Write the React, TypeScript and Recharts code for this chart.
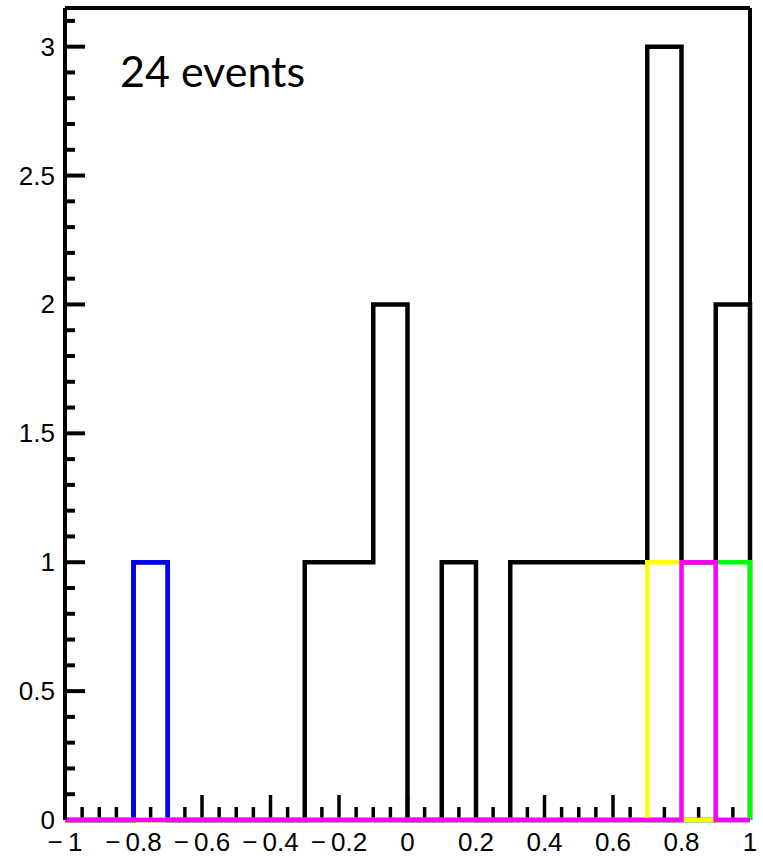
import { ComposedChart, Line, XAxis, YAxis, ReferenceLine } from 'recharts';

// bin edges of the histogram (20 bins from -1 to 1)
const BIN_EDGES = [-1, -0.9, -0.8, -0.7, -0.6, -0.5, -0.4, -0.3, -0.2, -0.1, 0, 0.1, 0.2, 0.3, 0.4, 0.5, 0.6, 0.7, 0.8, 0.9, 1];

// counts per bin
const TOTAL = [0, 0, 1, 0, 0, 0, 0, 1, 1, 2, 0, 1, 0, 1, 1, 1, 1, 3, 1, 2];
const BLUE = [0, 0, 1, 0, 0, 0, 0, 0, 0, 0, 0, 0, 0, 0, 0, 0, 0, 0, 0, 0];
const GREEN = [0, 0, 0, 0, 0, 0, 0, 0, 0, 0, 0, 0, 0, 0, 0, 0, 0, 0, 0, 1];
const YELLOW = [0, 0, 0, 0, 0, 0, 0, 0, 0, 0, 0, 0, 0, 0, 0, 0, 0, 1, 0, 0];
const MAGENTA = [0, 0, 0, 0, 0, 0, 0, 0, 0, 0, 0, 0, 0, 0, 0, 0, 0, 0, 1, 0];

const X_MAJOR = [-1, -0.8, -0.6, -0.4, -0.2, 0, 0.2, 0.4, 0.6, 0.8, 1];
const X_LABELS = ['\u2212\u20091', '\u2212\u20090.8', '\u2212\u20090.6', '\u2212\u20090.4', '\u2212\u20090.2', '0', '0.2', '0.4', '0.6', '0.8', '1'];
const Y_MAJOR = [0, 0.5, 1, 1.5, 2, 2.5, 3];
const Y_LABELS = ['0', '0.5', '1', '1.5', '2', '2.5', '3'];

const X_MAX = 1;
const X_MIN = -1;
const Y_MAX = 3.15;

const xTicks = Array.from({ length: 41 }, (_, i) => Math.round((-1 + i * 0.05) * 100) / 100);
const yTicks = Array.from({ length: 32 }, (_, i) => Math.round(i * 10) / 100);

// drawing order: later series sit on top
const series = [
  { key: 'total', values: TOTAL, color: '#000000' },
  { key: 'blue', values: BLUE, color: '#0000ff' },
  { key: 'green', values: GREEN, color: '#00ff00' },
  { key: 'yellow', values: YELLOW, color: '#ffff00' },
  { key: 'magenta', values: MAGENTA, color: '#ff00ff' },
];

// outline points: one per bin lower edge, then close at x = 1
const rows: Record<string, number>[] = [];
for (let i = 0; i < TOTAL.length; i++) {
  const r: Record<string, number> = { x: BIN_EDGES[i] };
  series.forEach((s) => (r[s.key] = s.values[i]));
  rows.push(r);
}
const last: Record<string, number> = { x: 1 };
series.forEach((s) => (last[s.key] = s.values[s.values.length - 1]));
rows.push(last);
const closing: Record<string, number> = { x: 1 };
series.forEach((s) => (closing[s.key] = 0));
rows.push(closing);

const W = 763;
const H = 857;
const LEFT = 65;
const RIGHT = 750;
const TOP = 8;
const BOTTOM = 820;
const FONT = '"Liberation Sans", Arial, Helvetica, sans-serif';

// tick lengths are in pixels; convert to data units for the reference segments
const X_PER_PX = (X_MAX - X_MIN) / (RIGHT - LEFT);
const Y_PER_PX = Y_MAX / (BOTTOM - TOP);

const near = (a: number, b: number) => Math.abs(a - b) < 1e-6;
const isXMajor = (v: number) => X_MAJOR.some((m) => near(m, v));
const isYMajor = (v: number) => Y_MAJOR.some((m) => near(m, v));

function XTick(props: any) {
  const { x, payload } = props;
  const idx = X_MAJOR.findIndex((m) => near(m, payload.value));
  if (idx < 0) return <g />;
  return (
    <text x={x} y={851} textAnchor="middle" fontFamily={FONT} fontSize={26} fill="#000">
      {X_LABELS[idx]}
    </text>
  );
}

function YTick(props: any) {
  const { y, payload } = props;
  const idx = Y_MAJOR.findIndex((m) => near(m, payload.value));
  if (idx < 0) return <g />;
  return (
    <text x={55} y={y + 9} textAnchor="end" fontFamily={FONT} fontSize={26} fill="#000">
      {Y_LABELS[idx]}
    </text>
  );
}

export default function App() {
  return (
    <div style={{ position: 'absolute', left: 0, top: 0, width: W, height: H, background: '#fff' }}>
      <ComposedChart
        width={W}
        height={H}
        data={rows}
        margin={{ top: TOP, right: W - RIGHT, bottom: 0, left: 0 }}
      >
        <XAxis
          type="number"
          dataKey="x"
          domain={[X_MIN, X_MAX]}
          ticks={X_MAJOR}
          interval={0}
          axisLine={false}
          tickLine={false}
          tickSize={0}
          tickMargin={0}
          height={H - BOTTOM}
          tick={<XTick />}
        />
        <YAxis
          type="number"
          domain={[0, Y_MAX]}
          ticks={Y_MAJOR}
          interval={0}
          width={LEFT}
          axisLine={{ stroke: '#000', strokeWidth: 4 }}
          tickLine={false}
          tickSize={0}
          tickMargin={0}
          tick={<YTick />}
        />
        <ReferenceLine y={Y_MAX} stroke="#000" strokeWidth={4} />
        <ReferenceLine x={X_MAX} stroke="#000" strokeWidth={4} />
        {xTicks.map((v) => (
          <ReferenceLine
            key={`xt${v}`}
            segment={[
              { x: v, y: 0 },
              { x: v, y: (isXMajor(v) ? 25 : 13) * Y_PER_PX },
            ]}
            stroke="#000"
            strokeWidth={3.5}
          />
        ))}
        {yTicks.map((v) => (
          <ReferenceLine
            key={`yt${v}`}
            segment={[
              { x: X_MIN, y: v },
              { x: X_MIN + (isYMajor(v) ? 20 : 10) * X_PER_PX, y: v },
            ]}
            stroke="#000"
            strokeWidth={4}
          />
        ))}
        {series.map((s) => (
          <Line
            key={s.key}
            type="stepAfter"
            dataKey={s.key}
            stroke={s.color}
            strokeWidth={4.5}
            dot={false}
            activeDot={false}
            isAnimationActive={false}
          />
        ))}
      </ComposedChart>
      <div
        style={{
          position: 'absolute',
          left: 120,
          top: 49,
          fontFamily: 'Lato, "Open Sans", sans-serif',
          fontSize: 43,
          lineHeight: '43px',
          color: '#000',
          whiteSpace: 'nowrap',
        }}
      >
        24 events
      </div>
    </div>
  );
}
